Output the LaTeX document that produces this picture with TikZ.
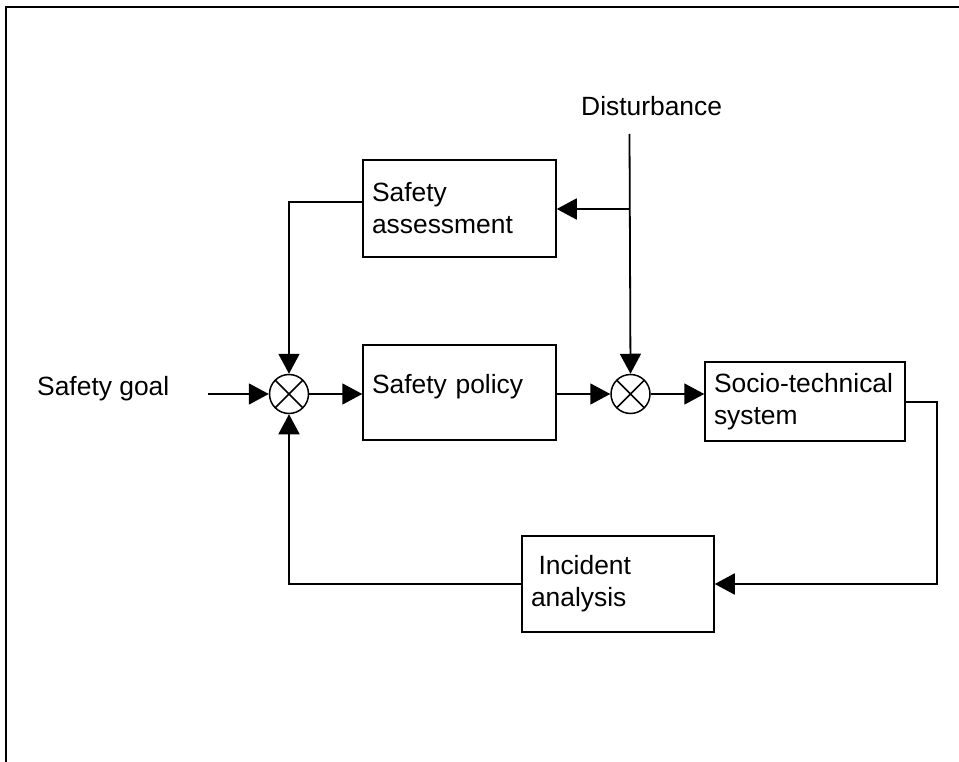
\documentclass[tikz,border=0pt]{standalone}
\usepackage{fontspec}
\setmainfont{Liberation Sans}
\usetikzlibrary{arrows.meta}
\begin{document}
\begin{tikzpicture}[x=1pt,y=-1pt,
  txt/.style={font=\fontsize{26.4}{32}\selectfont, inner sep=0pt},
  box/.style={draw, line width=1.5pt, txt, align=left, inner xsep=9pt, inner ysep=0pt},
  sumj/.style={draw, circle, line width=1.5pt, minimum size=39pt, inner sep=0pt,
    path picture={\draw[line width=1.5pt] (path picture bounding box.north west) -- (path picture bounding box.south east)
      (path picture bounding box.north east) -- (path picture bounding box.south west);}},
  arr/.style={line width=1.8pt, -{Triangle[length=20pt,width=21pt]}},
  ln/.style={line width=1.8pt}]
\useasboundingbox (0,0) rectangle (959,762);
\draw[line width=2pt] (6,762) -- (6,7) -- (959,7);

\node[box, text width=175pt, minimum height=97pt] (sa) at (459.5,208.5) {Safety\\assessment};
\node[box, text width=175pt, minimum height=95pt, text height=19pt, text depth=18pt] (sp) at (459.5,392.5) {Safety policy};
\node[box, text width=182pt, minimum height=79pt] (st) at (805,401.5) {Socio-technical\\system};
\node[box, text width=174pt, minimum height=96pt] (ia) at (618,584) {\hspace*{7.5pt}Incident\\analysis};

\node[sumj] (j1) at (289,394) {};
\node[sumj] (j2) at (630.5,394) {};

\node[txt, anchor=base west] (goal) at (37,395) {Safety goal};
\node[txt, anchor=base west] (dist) at (581,116) {Disturbance};

\coordinate (g0) at (208,394);
\coordinate (d0) at (629.5,134);
\coordinate (d1) at (629.5,209);
\coordinate (r1) at (937,402);

\draw[arr] (g0) -- (j1.west);
\draw[arr] (j1.east) -- (j1 -| sp.west);
\draw[arr] (sp.east |- j2) -- (j2.west);
\draw[arr] (j2.east) -- (j2 -| st.west);
\draw[arr] (d0) -- (j2.north);
\draw[arr] (d1) -- (sa.east |- d1);
\draw[arr] ([yshift=6.5pt]sa.west) -| (j1.north);
\draw[arr] (st.east |- r1) -- (r1) |- (ia.east);
\draw[arr] (ia.west) -| (j1.south);
\end{tikzpicture}
\end{document}
